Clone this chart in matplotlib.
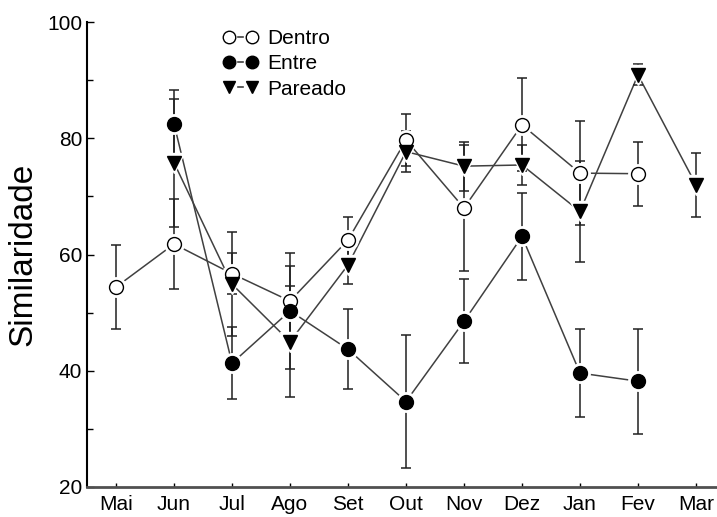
import numpy as np
import matplotlib
matplotlib.use("Agg")
import matplotlib.pyplot as plt
from matplotlib.lines import Line2D
from matplotlib.legend_handler import HandlerBase

plt.rcParams['font.family'] = ['Liberation Sans', 'DejaVu Sans']

meses = ['Mai', 'Jun', 'Jul', 'Ago', 'Set', 'Out', 'Nov', 'Dez', 'Jan', 'Fev', 'Mar']

# Dentro: Mai..Fev
dentro = [54.4, 61.8, 56.7, 52.0, 62.5, 79.7, 68.0, 82.3, 74.0, 73.9]
dentro_err = [7.2, 7.7, 3.5, 6.0, 4.0, 4.5, 10.8, 8.0, 9.0, 5.5]
# Entre: Jun..Fev
entre = [82.5, 41.3, 50.3, 43.7, 34.7, 48.5, 63.1, 39.6, 38.2]
entre_err = [5.8, 6.2, 10.0, 6.9, 11.5, 7.2, 7.5, 7.5, 9.0]
# Pareado: Jun..Mar
pareado = [75.8, 54.9, 45.0, 58.2, 77.7, 75.2, 75.4, 67.4, 90.9, 72.0]
pareado_err = [11.0, 9.0, 9.5, 3.3, 3.5, 4.2, 3.5, 8.7, 1.8, 5.5]

x = np.arange(len(meses))
x_dentro = x[0:10]
x_entre = x[1:10]
x_pareado = x[1:11]

fig = plt.figure(figsize=(7.17, 5.17), dpi=100)
ax = fig.add_axes([87 / 717, 30 / 517, 638 / 717, 465 / 517])

series = [
    (x_dentro, dentro, dentro_err, 'o', 'white', 'Dentro'),
    (x_entre, entre, entre_err, 'o', 'black', 'Entre'),
    (x_pareado, pareado, pareado_err, 'v', 'black', 'Pareado'),
]

line_col = '#404040'
for xs, ys, es, mk, fc, lab in series:
    ax.plot(xs, ys, color=line_col, lw=1.1, zorder=1)
    ax.errorbar(xs, ys, yerr=es, fmt='none', ecolor='#202020', elinewidth=1.1,
                capsize=3.3, capthick=1.1, zorder=2)
    # white halo so lines stop short of the symbols
    ax.plot(xs, ys, ls='none', marker=mk, ms=14, mfc='white', mec='white', zorder=3)
    ax.plot(xs, ys, ls='none', marker=mk, ms=10, mfc=fc, mec='black', mew=1.0, zorder=4)


class PairHandler(HandlerBase):
    def create_artists(self, legend, orig_handle, xdescent, ydescent,
                       width, height, fontsize, trans):
        y = height / 2 - ydescent
        mk = orig_handle.get_marker()
        fc = orig_handle.get_markerfacecolor()
        arts = []
        for xx in (-xdescent + 4, -xdescent + width - 4):
            m = Line2D([xx], [y], marker=mk, ms=9, mfc=fc, mec='black', mew=1.0, ls='none')
            m.set_transform(trans)
            arts.append(m)
        d = Line2D([-xdescent + width / 2 - 2, -xdescent + width / 2 + 2], [y, y],
                   color=line_col, lw=1.2)
        d.set_transform(trans)
        arts.append(d)
        return arts


handles = [Line2D([], [], marker=mk, mfc=fc, ls='none') for _, _, _, mk, fc, _ in series]
labels = [s[5] for s in series]
ax.legend(handles, labels, handler_map={Line2D: PairHandler()}, loc='upper left',
          bbox_to_anchor=(0.185, 1.025), frameon=False, fontsize=15, handlelength=1.6,
          handletextpad=0.5, labelspacing=0.3)

ax.set_xlim(-0.5, 10.5)
ax.set_ylim(20, 100)
ax.set_xticks(x)
ax.set_xticklabels(meses)
ax.set_xticks(x[1::2], minor=True)
ax.set_yticks([20, 40, 60, 80, 100])
ax.set_yticks([30, 50, 70, 90], minor=True)
ax.tick_params(axis='both', which='both', direction='in', labelsize=15)
ax.tick_params(axis='y', which='major', length=5, width=1)
ax.tick_params(axis='y', which='minor', length=4, width=1)
ax.tick_params(axis='x', which='major', length=3, width=1, pad=6)
ax.tick_params(axis='x', which='minor', length=6, width=1)
ax.set_ylabel('Similaridade', fontsize=24, labelpad=6)

ax.spines['top'].set_visible(False)
ax.spines['right'].set_visible(False)
ax.spines['left'].set_linewidth(1.5)
ax.spines['bottom'].set_linewidth(2)
ax.spines['bottom'].set_color('#505050')

fig.savefig('out.png', dpi=100)
